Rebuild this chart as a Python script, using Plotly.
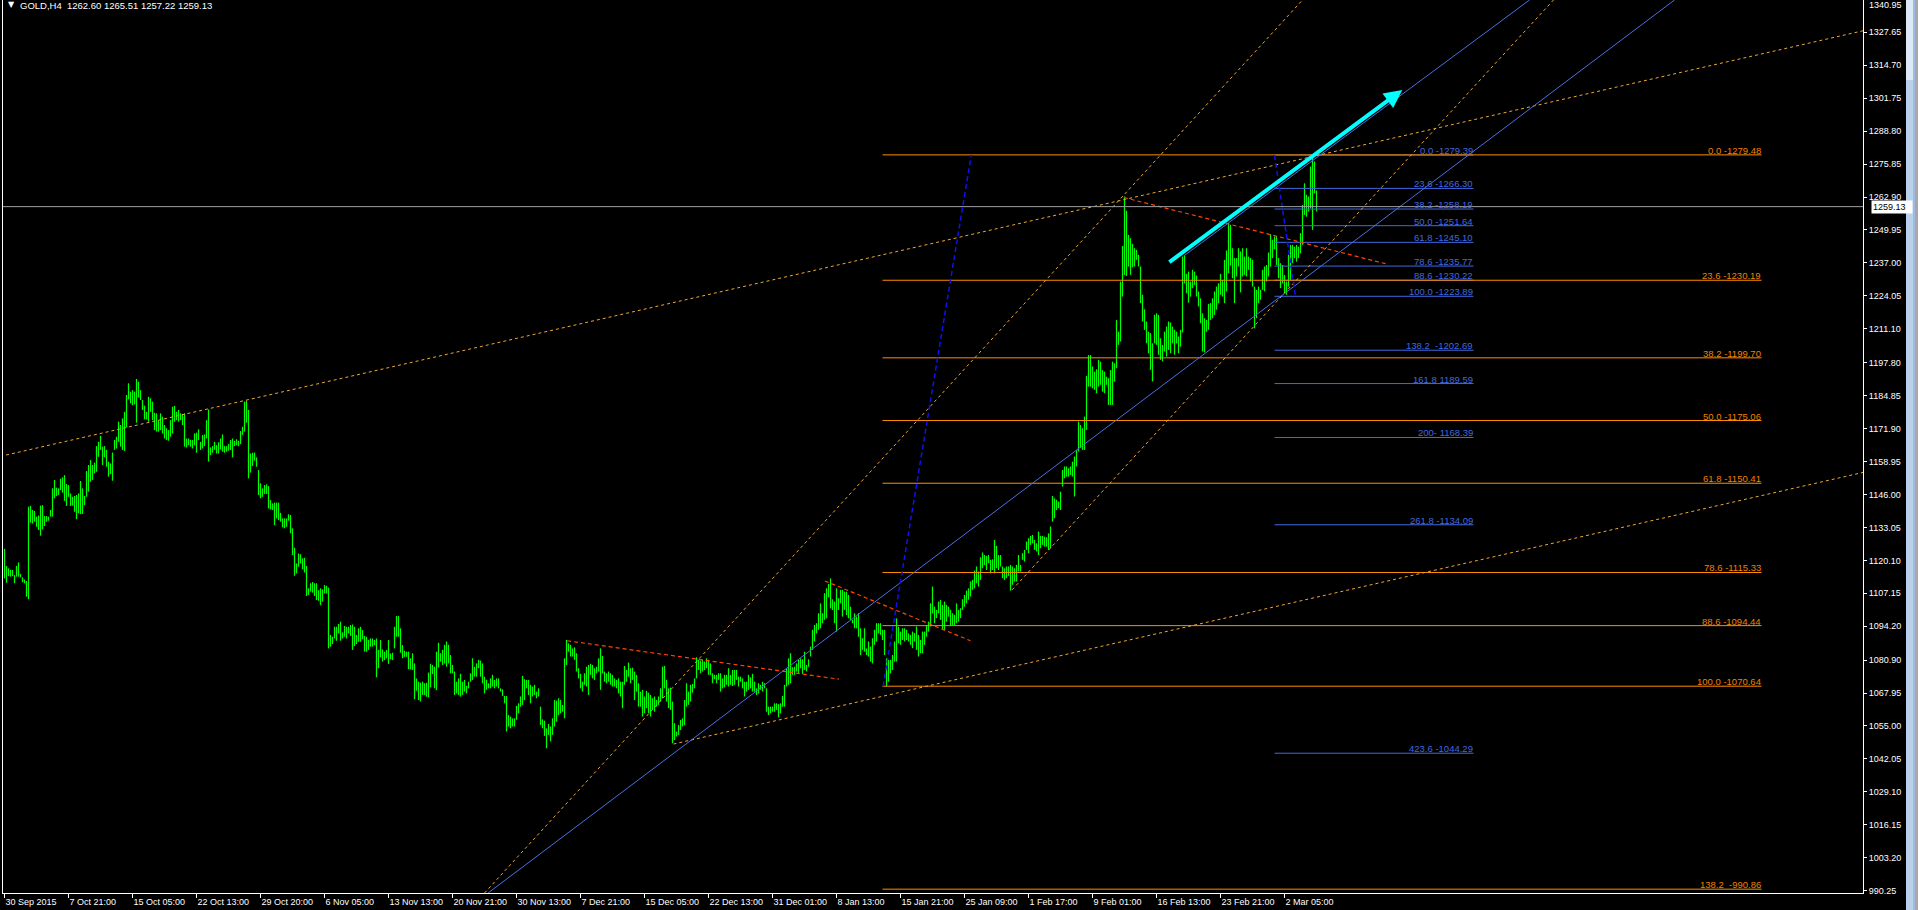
import plotly.graph_objects as go

# ---------------- data (H4 bars, GOLD) ----------------
bar_high = [
 1124.6,1117.9,1117.0,1116.3,1116.3,1114.3,1117.9,1119.3,1114.7,1113.4,
 1112.6,1112.0,1141.2,1141.5,1139.9,1139.5,1137.3,1137.7,1141.6,1141.8,
 1137.5,1137.5,1137.3,1139.9,1148.4,1151.7,1148.7,1148.4,1152.2,1152.7,
 1153.6,1150.1,1149.7,1146.4,1145.1,1145.4,1145.8,1146.4,1151.3,1148.4,
 1145.4,1155.2,1157.6,1159.5,1157.6,1158.5,1165.0,1166.7,1169.1,1164.8,
 1165.0,1163.5,1158.9,1158.2,1162.5,1167.4,1168.7,1174.6,1173.3,1175.9,
 1178.5,1185.1,1189.7,1186.4,1187.0,1186.4,1191.4,1190.3,1187.0,1183.1,
 1180.9,1178.5,1184.4,1183.8,1182.5,1178.1,1177.9,1175.2,1177.9,1176.6,
 1173.3,1172.0,1171.3,1175.2,1180.5,1180.8,1178.5,1179.2,1177.9,1177.6,
 1177.9,1168.0,1168.0,1167.4,1167.4,1170.0,1170.3,1171.6,1166.7,1169.4,
 1169.6,1175.2,1179.4,1164.5,1165.0,1166.7,1165.4,1166.5,1168.0,1169.6,
 1165.0,1165.0,1165.8,1167.4,1168.0,1167.1,1167.7,1167.1,1170.9,1172.6,
 1182.5,1182.8,1179.2,1162.1,1162.4,1162.5,1160.6,1155.6,1150.4,1148.4,
 1149.7,1150.0,1149.3,1143.8,1142.5,1142.8,1142.8,1142.8,1138.8,1136.6,
 1136.6,1136.6,1138.2,1137.9,1132.7,1125.1,1118.9,1122.8,1122.5,1120.9,
 1121.1,1117.9,1109.1,1111.1,1111.6,1111.1,1111.1,1108.4,1109.1,1108.7,
 1110.4,1110.1,1109.4,1090.8,1090.1,1094.0,1094.0,1095.1,1096.0,1091.8,
 1094.3,1094.0,1094.0,1094.7,1094.9,1094.0,1090.8,1093.4,1094.0,1092.7,
 1090.4,1090.1,1088.8,1089.4,1089.4,1088.8,1089.4,1084.9,1088.8,1085.1,
 1084.2,1084.9,1088.8,1083.5,1083.8,1094.0,1098.2,1098.2,1093.4,1086.8,
 1084.6,1084.2,1084.2,1081.6,1083.6,1079.6,1073.7,1072.4,1072.0,1072.4,
 1071.8,1072.0,1076.0,1079.4,1079.0,1078.3,1084.2,1087.7,1083.6,1084.9,
 1086.9,1088.2,1086.9,1082.9,1079.0,1076.4,1072.4,1073.7,1075.5,1072.4,
 1073.1,1070.8,1072.4,1075.7,1081.6,1078.3,1079.6,1081.0,1080.7,1079.6,
 1074.4,1073.1,1071.8,1073.7,1075.1,1073.1,1073.7,1073.7,1069.8,1069.4,
 1066.8,1066.8,1059.3,1058.7,1058.0,1058.0,1062.9,1063.9,1066.6,1074.7,
 1073.4,1073.1,1073.1,1071.2,1070.5,1071.2,1068.5,1069.8,1062.6,1057.6,
 1057.1,1054.1,1055.8,1054.8,1058.0,1065.2,1065.0,1065.9,1065.2,1063.3,
 1081.6,1088.8,1087.5,1086.9,1085.5,1085.9,1083.6,1077.7,1075.5,1072.4,
 1075.7,1078.3,1079.0,1079.4,1079.0,1077.7,1078.3,1081.6,1085.5,1082.5,
 1076.4,1075.7,1076.4,1075.7,1075.1,1073.7,1073.1,1073.7,1072.4,1072.4,
 1078.6,1077.0,1079.9,1077.7,1077.9,1076.4,1075.1,1071.8,1068.5,1069.2,
 1066.6,1068.8,1068.1,1067.2,1065.9,1066.6,1065.2,1066.6,1069.8,1078.3,
 1078.6,1073.1,1069.8,1070.1,1064.6,1056.1,1052.8,1055.4,1057.4,1058.0,
 1065.2,1071.8,1068.5,1071.2,1071.5,1073.7,1082.0,1081.0,1080.7,1081.0,
 1080.3,1081.6,1081.0,1079.6,1075.7,1075.1,1075.1,1075.7,1075.7,1073.7,
 1075.1,1075.1,1077.7,1075.1,1077.0,1077.0,1077.0,1074.4,1074.4,1073.7,
 1072.4,1072.4,1075.1,1074.1,1075.5,1072.4,1069.8,1071.8,1071.2,1072.4,
 1071.8,1069.8,1062.6,1062.6,1062.6,1063.9,1063.9,1063.6,1063.9,1066.8,
 1071.2,1077.7,1081.6,1083.6,1078.1,1078.3,1079.6,1081.0,1081.6,1081.2,
 1084.2,1079.0,1081.2,1086.2,1092.8,1094.7,1095.4,1099.3,1103.2,1099.3,
 1107.2,1109.1,1110.8,1113.0,1104.8,1103.9,1109.1,1105.2,1108.5,1108.5,
 1107.8,1107.8,1106.5,1101.9,1096.7,1099.3,1098.0,1099.3,1093.4,1089.5,
 1093.4,1085.5,1088.2,1086.2,1089.5,1092.8,1095.4,1095.4,1095.4,1092.8,
 1092.8,1081.6,1081.0,1081.0,1082.9,1088.2,1097.3,1094.0,1092.1,1093.4,
 1093.4,1092.8,1091.4,1090.8,1092.1,1091.5,1094.1,1090.8,1088.8,1092.1,
 1092.1,1094.7,1096.0,1103.2,1109.8,1101.9,1100.6,1103.9,1104.6,1102.6,
 1103.9,1102.6,1101.9,1100.6,1099.3,1098.7,1103.2,1100.6,1101.3,1104.8,
 1106.5,1108.2,1109.1,1111.8,1112.4,1116.1,1117.7,1115.7,1121.3,1123.2,
 1122.2,1121.9,1122.2,1120.3,1120.5,1128.1,1125.8,1122.2,1122.2,1117.7,
 1117.0,1117.7,1117.7,1118.3,1117.7,1117.0,1118.3,1122.2,1118.3,1122.9,
 1124.2,1127.5,1128.8,1129.7,1130.1,1128.1,1126.8,1131.4,1129.7,1129.7,
 1129.4,1129.2,1130.7,1133.4,1145.4,1144.5,1143.9,1143.2,1147.1,1155.6,
 1157.0,1157.0,1156.3,1157.0,1158.9,1160.9,1163.5,1174.6,1173.3,1172.0,
 1176.6,1192.6,1200.8,1200.8,1196.3,1194.3,1195.2,1198.9,1198.2,1194.9,
 1194.3,1192.3,1191.7,1194.9,1198.2,1197.6,1214.6,1210.0,1229.7,1243.7,
 1263.1,1257.5,1248.0,1246.7,1244.5,1242.8,1242.1,1240.2,1235.6,1224.5,
 1218.8,1214.0,1210.0,1209.4,1205.4,1216.6,1217.2,1216.6,1207.4,1204.8,
 1210.0,1212.0,1214.0,1213.6,1212.0,1210.7,1210.0,1208.1,1210.7,1239.5,
 1239.8,1232.7,1233.6,1229.7,1234.3,1233.6,1232.1,1225.8,1223.1,1217.2,
 1215.3,1214.6,1220.9,1221.2,1223.1,1225.8,1227.7,1229.0,1232.7,1230.3,
 1238.2,1241.9,1252.6,1252.0,1242.8,1238.9,1238.9,1242.8,1241.5,1242.8,
 1239.5,1242.8,1239.5,1238.9,1238.2,1227.7,1226.4,1227.7,1226.4,1234.3,
 1235.6,1236.2,1241.1,1248.3,1246.1,1247.4,1247.6,1238.9,1236.9,1236.2,
 1232.3,1229.7,1240.2,1244.1,1244.1,1243.4,1244.1,1243.4,1248.7,1259.8,
 1268.3,1263.8,1263.1,1274.9,1279.4,1276.9,1265.51,
]

bar_low = [
 1113.0,1111.3,1113.9,1113.7,1113.9,1111.1,1113.7,1113.7,1113.4,1111.5,
 1111.1,1105.8,1104.8,1134.9,1134.6,1135.3,1133.3,1132.0,1129.8,1132.3,
 1133.6,1135.3,1135.7,1137.3,1137.3,1144.5,1145.4,1145.8,1147.7,1146.7,
 1143.5,1141.5,1145.1,1141.5,1141.6,1139.2,1136.3,1138.6,1138.3,1138.3,
 1141.8,1145.1,1147.1,1151.0,1151.7,1154.3,1154.9,1160.8,1163.5,1157.6,
 1160.6,1156.9,1153.0,1154.0,1151.4,1163.5,1164.1,1166.7,1164.8,1163.5,
 1163.1,1172.4,1183.4,1181.8,1181.1,1181.4,1174.2,1184.2,1183.1,1179.2,
 1175.5,1175.5,1174.6,1178.5,1175.2,1171.3,1170.7,1170.7,1171.3,1170.0,
 1168.0,1167.4,1167.1,1168.7,1170.0,1174.6,1175.2,1174.6,1175.2,1173.3,
 1164.8,1164.5,1165.4,1164.8,1164.1,1165.4,1162.4,1167.4,1163.5,1164.1,
 1165.0,1168.0,1158.9,1161.5,1162.4,1163.5,1162.1,1162.1,1163.7,1162.8,
 1162.4,1162.8,1163.2,1163.5,1160.6,1165.0,1165.4,1165.0,1165.8,1169.4,
 1170.7,1174.2,1152.3,1154.6,1157.2,1159.3,1156.9,1145.8,1144.5,1145.1,
 1146.2,1146.2,1140.5,1140.1,1139.9,1134.0,1136.6,1135.9,1135.3,1133.1,
 1132.7,1133.3,1135.7,1130.7,1122.2,1114.1,1115.0,1117.6,1118.9,1116.6,
 1115.3,1106.1,1106.5,1107.8,1107.4,1106.1,1104.5,1104.2,1102.5,1103.9,
 1107.1,1107.1,1085.5,1086.2,1087.2,1089.4,1088.5,1091.4,1088.5,1089.4,
 1090.1,1089.4,1091.4,1090.4,1084.9,1086.4,1087.2,1088.1,1088.1,1089.1,
 1084.2,1084.2,1084.9,1086.2,1086.2,1086.8,1074.1,1077.7,1082.0,1080.3,
 1080.9,1081.6,1079.4,1081.2,1080.9,1085.5,1090.1,1090.1,1083.8,1081.6,
 1082.2,1082.2,1077.3,1077.3,1077.0,1065.5,1068.9,1065.2,1064.6,1067.2,
 1067.2,1066.5,1066.3,1070.2,1075.4,1069.8,1069.1,1078.0,1080.3,1079.0,
 1079.6,1078.3,1079.6,1075.7,1075.7,1067.2,1067.8,1067.2,1066.6,1067.2,
 1068.5,1067.8,1069.8,1072.4,1073.1,1074.4,1074.4,1077.7,1074.4,1071.8,
 1067.8,1069.2,1069.8,1069.8,1070.5,1069.8,1070.5,1069.8,1068.5,1066.8,
 1063.9,1052.8,1054.8,1054.1,1054.8,1054.8,1057.4,1060.0,1062.6,1063.3,
 1065.2,1069.8,1067.2,1063.9,1066.6,1067.2,1065.9,1066.6,1055.4,1054.1,
 1051.1,1046.2,1051.5,1048.9,1051.5,1054.8,1056.7,1059.3,1060.0,1060.6,
 1058.0,1079.0,1084.2,1082.3,1082.3,1081.0,1076.4,1073.7,1069.8,1068.5,
 1071.2,1070.5,1067.2,1075.1,1073.7,1073.1,1075.7,1076.4,1069.2,1075.7,
 1072.4,1071.8,1072.4,1071.2,1070.5,1070.5,1069.8,1067.8,1066.6,1062.0,
 1071.2,1072.4,1074.4,1071.8,1073.1,1065.2,1068.5,1062.6,1062.6,1058.7,
 1060.0,1062.0,1060.0,1058.7,1061.3,1060.6,1062.6,1063.3,1064.6,1065.9,
 1069.8,1064.6,1062.0,1061.3,1048.2,1049.5,1050.9,1051.5,1053.4,1054.8,
 1055.4,1062.6,1063.3,1064.6,1068.1,1069.8,1073.7,1077.0,1075.7,1076.4,
 1077.0,1077.7,1075.1,1075.1,1071.8,1073.4,1071.8,1073.1,1068.5,1069.8,
 1070.2,1071.2,1070.5,1071.2,1070.7,1071.2,1073.1,1070.5,1072.4,1069.8,
 1066.6,1068.5,1069.2,1069.8,1068.5,1068.5,1067.2,1067.8,1069.2,1068.5,
 1069.8,1060.6,1059.3,1060.0,1060.6,1060.6,1061.3,1058.4,1060.0,1062.6,
 1062.6,1070.5,1071.2,1071.8,1075.1,1075.1,1076.4,1075.7,1077.7,1075.5,
 1077.0,1076.4,1078.3,1082.3,1084.9,1088.2,1091.4,1092.8,1093.4,1095.4,
 1096.7,1097.3,1105.6,1101.2,1100.6,1095.4,1092.1,1100.6,1103.2,1098.0,
 1100.6,1098.6,1097.3,1096.7,1095.4,1093.4,1093.4,1090.1,1082.9,1084.9,
 1084.2,1082.9,1082.3,1080.3,1079.6,1086.9,1088.2,1091.4,1090.8,1088.8,
 1082.9,1070.6,1072.4,1075.7,1077.0,1080.3,1080.3,1087.5,1086.9,1088.8,
 1088.2,1088.8,1088.2,1086.9,1085.6,1088.2,1084.9,1082.3,1083.6,1083.6,
 1086.9,1090.1,1092.1,1094.1,1099.3,1095.4,1097.4,1099.3,1096.7,1092.8,
 1092.8,1096.0,1098.0,1094.7,1094.7,1094.7,1095.4,1096.0,1097.4,1100.6,
 1101.9,1103.2,1104.6,1105.9,1108.5,1109.1,1111.1,1109.8,1112.4,1117.0,
 1118.3,1116.3,1119.0,1115.0,1116.3,1115.0,1117.0,1116.3,1117.7,1113.1,
 1112.4,1113.1,1114.0,1108.2,1110.5,1111.8,1111.8,1115.7,1115.7,1120.3,
 1119.6,1124.2,1122.9,1126.2,1126.8,1124.2,1123.6,1122.2,1124.9,1126.2,
 1125.5,1125.5,1124.2,1124.9,1135.3,1136.7,1139.9,1140.6,1139.9,1149.1,
 1152.4,1153.0,1153.0,1153.7,1153.0,1145.2,1157.0,1162.9,1164.2,1163.5,
 1163.5,1171.4,1188.4,1188.4,1187.7,1187.1,1185.8,1188.4,1189.1,1186.4,
 1185.8,1189.1,1181.2,1181.2,1181.2,1190.4,1195.6,1204.8,1206.1,1223.8,
 1232.3,1231.9,1235.6,1232.3,1235.3,1235.6,1238.2,1235.6,1221.2,1214.0,
 1210.7,1205.4,1201.5,1195.0,1190.4,1205.4,1204.8,1200.9,1198.9,1198.3,
 1202.2,1200.2,1202.8,1201.5,1205.4,1200.9,1205.4,1201.5,1204.1,1209.7,
 1229.0,1225.1,1221.4,1223.8,1227.1,1228.4,1223.8,1219.9,1213.3,1202.2,
 1201.8,1210.0,1210.7,1214.6,1215.3,1216.6,1218.6,1221.2,1224.5,1223.8,
 1221.2,1225.8,1233.0,1235.9,1231.0,1221.2,1231.7,1235.6,1225.4,1231.7,
 1232.3,1231.7,1234.3,1229.7,1227.7,1211.3,1215.3,1221.2,1222.5,1226.4,
 1225.8,1229.7,1231.7,1235.6,1238.9,1242.4,1236.2,1231.0,1227.1,1229.0,
 1225.1,1224.5,1227.7,1230.3,1236.9,1238.9,1237.5,1238.9,1240.8,1244.1,
 1255.9,1255.2,1257.2,1258.5,1250.0,1264.4,1257.22,
]

# time axis: one label every 32 bars
time_tick_bars = [0, 32, 64, 96, 128, 160, 192, 224, 256, 288, 320,
                  352, 384, 416, 448, 480, 512, 544, 576, 608, 640]
time_tick_text = ["30 Sep 2015", "7 Oct 21:00", "15 Oct 05:00", "22 Oct 13:00",
                  "29 Oct 20:00", "6 Nov 05:00", "13 Nov 13:00", "20 Nov 21:00",
                  "30 Nov 13:00", "7 Dec 21:00", "15 Dec 05:00", "22 Dec 13:00",
                  "31 Dec 01:00", "8 Jan 13:00", "15 Jan 21:00", "25 Jan 09:00",
                  "1 Feb 17:00", "9 Feb 01:00", "16 Feb 13:00", "23 Feb 21:00",
                  "2 Mar 05:00"]

price_tick_text = ["1327.65", "1314.70", "1301.75", "1288.80", "1275.85", "1262.90",
                   "1249.95", "1237.00", "1224.05", "1211.10", "1197.80", "1184.85",
                   "1171.90", "1158.95", "1146.00", "1133.05", "1120.10", "1107.15",
                   "1094.20", "1080.90", "1067.95", "1055.00", "1042.05", "1029.10",
                   "1016.15", "1003.20", "990.25"]
price_top_label = "1340.95"

# Fibonacci retracement (orange) and extension (blue)
orange_fib_levels = [1279.48, 1230.19, 1199.70, 1175.06, 1150.41, 1115.33, 1094.44, 1070.64, 990.86]
orange_fib_text = ["0.0 -1279.48", "23.6 -1230.19", "38.2 -1199.70", "50.0 -1175.06",
                   "61.8 -1150.41", "78.6 -1115.33", "88.6 -1094.44", "100.0 -1070.64",
                   "138.2\u00a0 -990.86"]
orange_fib_span = (439.0, 878.5)

blue_fib_levels = [1279.39, 1266.30, 1258.19, 1251.64, 1245.10, 1235.77, 1230.22, 1223.89,
                   1202.69, 1189.59, 1168.39, 1134.09, 1044.29]
blue_fib_text = ["0.0 -1279.39", "23.6 -1266.30", "38.2 -1258.19", "50.0 -1251.64",
                 "61.8 -1245.10", "78.6 -1235.77", "88.6 -1230.22", "100.0 -1223.89",
                 "138.2\u00a0 -1202.69", "161.8 1189.59", "200- 1168.39", "261.8 -1134.09",
                 "423.6 -1044.29"]
blue_fib_span = (635.0, 734.5)

# drawn trend lines: (bar1, price1, bar2, price2)
gold_dotted_lines = [(0.8, 1161.5, 929.5, 1328.3),
                     (334.5, 1047.9, 929.5, 1154.7),
                     (240.0, 989.35, 649.0, 1340.35),
                     (503.8, 1108.5, 774.5, 1340.35)]
red_dashed_lines = [(281.3, 1088.5, 417.2, 1073.4),
                    (410.2, 1112.0, 483.0, 1088.5),
                    (559.7, 1262.7, 690.5, 1236.7)]
blue_channel_lines = [(241.8, 989.35, 835.0, 1340.35),
                      (589.6, 1239.7, 762.5, 1340.35)]
fib_base_lines = [(439.3, 1070.64, 483.4, 1279.48),
                  (635.0, 1279.39, 645.5, 1223.89)]
cyan_arrow = (581.7, 1236.9, 698.9, 1305.0)
bid_price = 1259.13
bid_text = "1259.13"
title_text = "GOLD,H4  1262.60 1265.51 1257.22 1259.13"

# ---------------- figure ----------------
FONT = "Liberation Sans, Arial, sans-serif"
W, H = 1918, 910
ML, MR, MT, MB = 3, 55, 0, 17
PW = W - ML - MR
PH = H - MT - MB
Y_RANGE = [989.35, 1340.35]
X_RANGE = [-0.75, -0.75 + PW / 2.0]


def seg_xy(lines):
    xs, ys = [], []
    for a, b, c, d in lines:
        xs += [a, c, None]
        ys += [b, d, None]
    return xs, ys


fig = go.Figure()

# bars (high-low vertical strokes)
bx, by = [], []
for i, (hi, lo) in enumerate(zip(bar_high, bar_low)):
    bx += [i, i, None]
    by += [lo, hi, None]
fig.add_trace(go.Scatter(x=bx, y=by, mode="lines", line=dict(color="#00FF00", width=1.2),
                         hoverinfo="skip", showlegend=False))

# blue fib extension lines
fx, fy = seg_xy([(blue_fib_span[0], v, blue_fib_span[1], v) for v in blue_fib_levels])
fig.add_trace(go.Scatter(x=fx, y=fy, mode="lines", line=dict(color="#4169E1", width=1),
                         hoverinfo="skip", showlegend=False))
# orange fib retracement lines
fx, fy = seg_xy([(orange_fib_span[0], v, orange_fib_span[1], v) for v in orange_fib_levels])
fig.add_trace(go.Scatter(x=fx, y=fy, mode="lines", line=dict(color="#FF8C00", width=1),
                         hoverinfo="skip", showlegend=False))

# dotted goldenrod trend lines
tx, ty = seg_xy(gold_dotted_lines)
fig.add_trace(go.Scatter(x=tx, y=ty, mode="lines",
                         line=dict(color="#F0A830", width=1, dash="3px,3px"),
                         hoverinfo="skip", showlegend=False))
# red dashed trend lines
tx, ty = seg_xy(red_dashed_lines)
fig.add_trace(go.Scatter(x=tx, y=ty, mode="lines",
                         line=dict(color="#FF4500", width=1.2, dash="4px,3px"),
                         hoverinfo="skip", showlegend=False))
# blue channel lines
tx, ty = seg_xy(blue_channel_lines)
fig.add_trace(go.Scatter(x=tx, y=ty, mode="lines", line=dict(color="#4A6FE3", width=1),
                         hoverinfo="skip", showlegend=False))
# fib base lines (dashed blue)
tx, ty = seg_xy(fib_base_lines)
fig.add_trace(go.Scatter(x=tx, y=ty, mode="lines",
                         line=dict(color="#1010F0", width=1.5, dash="5px,3px"),
                         hoverinfo="skip", showlegend=False))
# bid line
fig.add_trace(go.Scatter(x=[X_RANGE[0], X_RANGE[1]], y=[bid_price, bid_price], mode="lines",
                         line=dict(color="#A0A0A0", width=1), hoverinfo="skip", showlegend=False))

annotations = []
# cyan arrow
annotations.append(dict(x=cyan_arrow[2], y=cyan_arrow[3], ax=cyan_arrow[0], ay=cyan_arrow[1],
                        xref="x", yref="y", axref="x", ayref="y", text="", showarrow=True,
                        arrowhead=2, arrowsize=0.9, arrowwidth=4, arrowcolor="#00FFFF",
                        standoff=0, startstandoff=0))
# fib labels
for v, t in zip(orange_fib_levels, orange_fib_text):
    annotations.append(dict(x=orange_fib_span[1], y=v, xref="x", yref="y", text=t,
                            showarrow=False, xanchor="right", yanchor="bottom", yshift=-2,
                            borderpad=0, font=dict(family=FONT, size=9.5, color="#F08000")))
for v, t in zip(blue_fib_levels, blue_fib_text):
    annotations.append(dict(x=blue_fib_span[1], y=v, xref="x", yref="y", text=t,
                            showarrow=False, xanchor="right", yanchor="bottom", yshift=-2,
                            borderpad=0, font=dict(family=FONT, size=9.5, color="#4169E1")))
# title
annotations.append(dict(x=0, y=1, xref="paper", yref="paper", text=title_text, showarrow=False,
                        xanchor="left", yanchor="top", xshift=16, yshift=1, borderpad=0,
                        font=dict(family=FONT, size=9.5, color="#FFFFFF")))
annotations.append(dict(x=0, y=1, xref="paper", yref="paper", text="\u25BC", showarrow=False,
                        xanchor="left", yanchor="top", xshift=4, yshift=1, borderpad=0,
                        font=dict(family="DejaVu Sans", size=8, color="#FFFFFF")))
# current price box
annotations.append(dict(x=1, y=bid_price, xref="paper", yref="y", text=bid_text,
                        showarrow=False, xanchor="left", yanchor="middle", xshift=8,
                        bgcolor="#FFFFFF", borderpad=1, width=38, align="left",
                        font=dict(family=FONT, size=9, color="#000000")))
# top price label (partly hidden at the window edge in the original)
annotations.append(dict(x=1, y=1, xref="paper", yref="paper", text=price_top_label,
                        showarrow=False, xanchor="left", yanchor="top", xshift=5, yshift=1,
                        borderpad=0, font=dict(family=FONT, size=9, color="#FFFFFF")))


def px2paper(px):
    return (px - ML) / PW


shapes = [
    dict(type="rect", xref="paper", yref="paper", x0=px2paper(1906), x1=px2paper(1913),
         y0=-MB / PH, y1=1, fillcolor="#B9D1EA", line=dict(width=0), layer="above"),
    dict(type="rect", xref="paper", yref="paper", x0=px2paper(1906), x1=px2paper(1913),
         y0=1 - 80 / PH, y1=1, fillcolor="#DDE9F6", line=dict(width=0), layer="above"),
    dict(type="rect", xref="paper", yref="paper", x0=px2paper(1913), x1=px2paper(1915),
         y0=-MB / PH, y1=1, fillcolor="#9DBCE0", line=dict(width=0), layer="above"),
    dict(type="rect", xref="paper", yref="paper", x0=px2paper(1915), x1=px2paper(1918),
         y0=-MB / PH, y1=1, fillcolor="#A8A8A8", line=dict(width=0), layer="above"),
]

fig.update_layout(
    width=W, height=H,
    margin=dict(l=ML, r=MR, t=MT, b=MB, pad=0),
    paper_bgcolor="#000000", plot_bgcolor="#000000",
    showlegend=False, hovermode=False,
    annotations=annotations, shapes=shapes,
    xaxis=dict(range=X_RANGE, showgrid=False, zeroline=False, showline=True,
               linecolor="#FFFFFF", linewidth=1, ticks="outside", ticklen=4,
               tickcolor="#FFFFFF", tickvals=time_tick_bars, ticktext=time_tick_text,
               ticklabelposition="outside right",
               tickfont=dict(family=FONT, size=9, color="#FFFFFF"), fixedrange=True),
    yaxis=dict(range=Y_RANGE, side="right", showgrid=False, zeroline=False, showline=True,
               mirror=True, linecolor="#FFFFFF", linewidth=1, ticks="outside", ticklen=3,
               tickcolor="#FFFFFF", tickvals=[float(t) for t in price_tick_text],
               ticktext=price_tick_text,
               tickfont=dict(family=FONT, size=9, color="#FFFFFF"), fixedrange=True),
)

fig.write_html("out.html", config={"displayModeBar": False},
               post_script="document.body.style.margin='0';document.body.style.overflow='hidden';")
